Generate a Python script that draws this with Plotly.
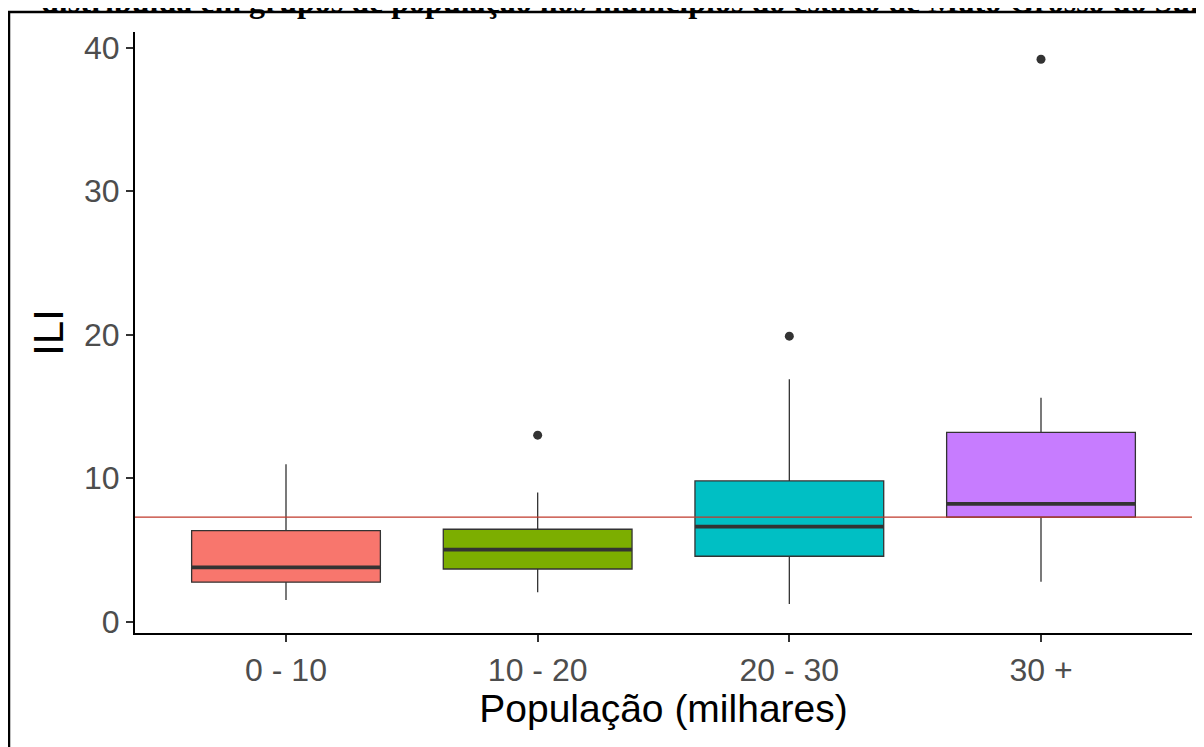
import plotly.graph_objects as go

categories = ["0 - 10", "10 - 20", "20 - 30", "30 +"]
q1 = [2.75, 3.67, 4.56, 7.28]
median = [3.79, 5.02, 6.63, 8.21]
q3 = [6.35, 6.44, 9.81, 13.2]
lower = [1.51, 2.05, 1.23, 2.79]
upper = [10.98, 9.0, 16.9, 15.6]
outlier_cat = [2, 3, 4]
outlier_val = [13.0, 19.9, 39.2]
reference_value = 7.28
colors = ["#F8766D", "#7CAE00", "#00BFC4", "#C77CFF"]
title_text = "distribuída em grupos de população nos municípios do estado de Mato Grosso do Sul"

# the page places the figure 8px from the window's top-left corner
W, H = 1196, 739
L, R, T, B = 127, 12, 24, 114
pw, ph = W - L - R, H - T - B
box_w = 0.75

fig = go.Figure()
for i, cat in enumerate(categories):
    pos = i + 1
    fig.add_trace(go.Box(
        x=[pos], q1=[q1[i]], median=[median[i]], q3=[q3[i]],
        lowerfence=[lower[i]], upperfence=[upper[i]],
        width=box_w, whiskerwidth=0, fillcolor=colors[i],
        line=dict(color="#333333", width=1.3), boxpoints=False,
        showlegend=False, hoverinfo="skip"))
    fig.add_trace(go.Scatter(
        x=[pos - box_w / 2, pos + box_w / 2], y=[median[i], median[i]],
        mode="lines", line=dict(color="#333333", width=3.8),
        showlegend=False, hoverinfo="skip"))

fig.add_trace(go.Scatter(
    x=outlier_cat, y=outlier_val, mode="markers",
    marker=dict(color="#333333", size=9), showlegend=False, hoverinfo="skip"))

fig.add_shape(type="line", xref="paper", yref="y", x0=0, x1=1,
              y0=reference_value, y1=reference_value,
              line=dict(color="#C0392B", width=1.2), layer="above")

# outer frame
fig.add_shape(type="rect", xref="paper", yref="paper",
              x0=(1 - L) / pw, x1=(1194 - L) / pw,
              y0=(H - B - 770) / ph, y1=(H - B - 4) / ph,
              line=dict(color="black", width=2.5), fillcolor="rgba(0,0,0,0)")

# clipped caption at the top
fig.add_annotation(text="<b>" + title_text + "</b>", xref="paper", yref="paper",
                   x=(612 - L) / pw, xanchor="center",
                   y=(H - B - 13) / ph, yanchor="bottom", showarrow=False,
                   font=dict(family="Liberation Serif, Times New Roman, serif", size=32, color="black"))

font_sans = "Liberation Sans, Arial, sans-serif"
fig.update_layout(
    width=W, height=H,
    margin=dict(l=L, r=R, t=T, b=B),
    paper_bgcolor="white", plot_bgcolor="white",
    xaxis=dict(range=[0.4, 4.6], tickmode="array", tickvals=[1, 2, 3, 4], ticktext=categories,
               showline=True, linecolor="black", linewidth=2.2, ticks="outside", ticklen=7,
               tickwidth=2, tickcolor="#333333", showgrid=False, zeroline=False, automargin=False,
               tickfont=dict(family=font_sans, size=32, color="#4D4D4D"),
               title=dict(text="População (milhares)", standoff=0,
                          font=dict(family=font_sans, size=39, color="black"))),
    yaxis=dict(range=[-0.79, 41.1], tickvals=[0, 10, 20, 30, 40],
               showline=True, linecolor="black", linewidth=2.2, ticks="outside", ticklen=7,
               tickwidth=2, tickcolor="#333333", showgrid=False, zeroline=False, automargin=False,
               tickfont=dict(family=font_sans, size=32, color="#4D4D4D"),
               title=dict(text="ILI", standoff=7,
                          font=dict(family=font_sans, size=42, color="black"))),
)

fig.write_html("out.html")
